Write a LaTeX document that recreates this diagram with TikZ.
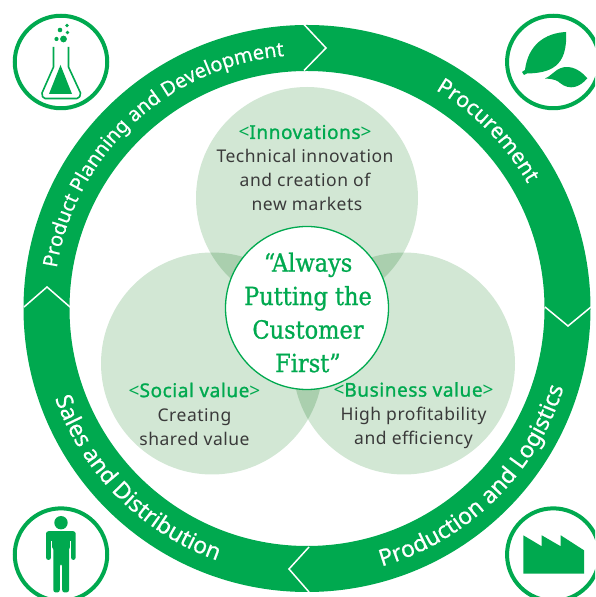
\documentclass[tikz,border=0pt]{standalone}
\usepackage{fontspec}
\setmainfont[LetterSpace=3]{Noto Sans}
\newfontfamily\headface[FakeBold=1.2,LetterSpace=3]{Noto Sans}
\newfontfamily\ringface[FakeBold=0.5]{Noto Sans}
\newfontfamily\coreface[FakeBold=0.9]{DejaVu Serif Condensed}
\usetikzlibrary{decorations.text}
\definecolor{ringgreen}{HTML}{00A94F}
\definecolor{softgreen}{HTML}{D2E7D4}
\definecolor{overlapgreen}{HTML}{AACFAE}
\definecolor{bodygrey}{HTML}{3A3A3A}
\newcommand{\ringtop}{\ringface\fontsize{20}{24}\selectfont\color{white}}
\newcommand{\ringproc}{\ringface\fontsize{21.5}{24}\selectfont\color{white}}
\newcommand{\ringbottom}{\ringface\fontsize{23}{26}\selectfont\color{white}}
\newcommand{\headtext}[1]{{\color{ringgreen}\fontsize{19}{24}\selectfont <{\headface #1}>}}
\tikzset{
  x=1pt,y=1pt,
  chevron/.style={draw=white,line width=1.5pt,line join=miter},
  iconring/.style={circle,draw=ringgreen,line width=4pt,fill=white,minimum size=92.5pt,inner sep=0pt},
  bubble/.style={circle,fill=softgreen,minimum size=222pt,inner sep=0pt},
  bubbletext/.style={align=center,text=bodygrey,font=\fontsize{17.5}{24}\selectfont},
  corecircle/.style={circle,draw=ringgreen,line width=1.3pt,fill=white,minimum size=163pt,inner sep=0pt},
  coretext/.style={align=center,text=ringgreen,font=\coreface\fontsize{25}{33.5}\selectfont},
  ringtoplabel/.style={decorate,decoration={text along path,text align=center,text={|\ringtop|#1}}},
  ringproclabel/.style={decorate,decoration={text along path,text align=center,text={|\ringproc|#1}}},
  ringbottomlabel/.style={decorate,decoration={text along path,text align=center,text={|\ringbottom|#1}}}
}
\begin{document}
\begin{tikzpicture}
\useasboundingbox (0,0) rectangle (595,597);
\clip (0,0) rectangle (595,597);
\coordinate (ringc) at (307,288.5);

% ring
\fill[ringgreen,even odd rule] (ringc) circle[radius=283.5pt] (ringc) circle[radius=237.5pt];

% chevrons
\draw[chevron] (304,572.5) -- (326,549) -- (304,526.5);
\draw[chevron] (545,290) -- (568,271) -- (591,290);
\draw[chevron] (309,50) -- (289,28) -- (309,5);
\draw[chevron] (24,290) -- (47,310) -- (70,290);

% ring labels
\path[ringtoplabel={Product Planning and Development}] ([shift={(ringc)}]178:253.5pt) arc[start angle=178,end angle=88,radius=253.5pt];
\path[ringproclabel={Procurement}] ([shift={(ringc)}]70.5:253.5pt) arc[start angle=70.5,end angle=18.5,radius=253.5pt];
\path[ringbottomlabel={Production and Logistics}] ([shift={(ringc)}]-88:268.5pt) arc[start angle=-88,end angle=-3,radius=268.5pt];
\path[ringbottomlabel={Sales and Distribution}] ([shift={(ringc)}]185:267.5pt) arc[start angle=185,end angle=265,radius=267.5pt];

% bubbles
\node[bubble] (inno) at (307,399) {};
\node[bubble] (social) at (212,233.5) {};
\node[bubble] (business) at (404,233.5) {};
\begin{scope}
  \clip (307,399) circle[radius=111pt];
  \fill[overlapgreen] (212,233.5) circle[radius=111pt];
  \fill[overlapgreen] (404,233.5) circle[radius=111pt];
\end{scope}
\begin{scope}
  \clip (212,233.5) circle[radius=111pt];
  \fill[overlapgreen] (404,233.5) circle[radius=111pt];
\end{scope}

% core
\node[corecircle] (core) at (307,289) {};
\node[coretext] (coretxt) at (308,284.5) {“Always\\Putting the\\Customer\\First”};

% bubble texts
\node[bubbletext] (innotext) at (305,429) {\headtext{Innovations}\\Technical innovation\\and creation of\\\hspace*{4pt}new markets};
\node[bubbletext] (socialtext) at (194.5,183) {\headtext{Social value}\\Creating\\shared value};
\node[bubbletext] (businesstext) at (413.5,181.5) {\headtext{Business value}\\High profitability\\and efficiency};

% flask icon
\node[iconring] (iconflask) at (61,535) {};
\draw[ringgreen,line width=1.6pt,line join=round] (53.5,550) -- (53.5,530) -- (42,504) to[out=-90,in=180] (45,498.5) -- (77,498.5) to[out=0,in=-90] (80.5,504) -- (68.5,530) -- (68.5,550);
\fill[ringgreen] (60.5,532) -- (72,503) -- (49,503) -- cycle;
\fill[ringgreen] (63.5,558) circle[radius=3.4pt] (56.5,558) circle[radius=2.1pt] (60,567) circle[radius=2.3pt] (67.5,564.5) circle[radius=1.9pt] (67,571.5) circle[radius=1.8pt];

% leaf icon
\node[iconring] (iconleaf) at (553.3,535) {};
\fill[ringgreen] (566,565) .. controls (545,564) and (528,552) .. (525,527) -- (522,525) -- (524,522) -- (527,523.5) .. controls (550,524) and (568,530) .. (566,565) -- cycle;
\fill[ringgreen] (587.3,518.7) .. controls (578,530) and (566,533) .. (557,527) -- (548,520) -- (545,518.5) .. controls (555,518) and (558,516) .. (560,514) .. controls (570,506) and (580,510) .. (587.3,518.7) -- cycle;

% person icon
\node[iconring] (iconperson) at (61,42.4) {};
\fill[ringgreen] (61,74.3) circle[radius=6.7pt];
\fill[ringgreen,rounded corners=2.5pt] (46,37) -- (46,65.8) -- (75.7,65.8) -- (75.7,37) -- (71,37) -- (71,50) -- (69,50) -- (69,4.5) -- (62.2,4.5) -- (62.2,33) -- (59.8,33) -- (59.8,4.5) -- (53.3,4.5) -- (53.3,50) -- (51,50) -- (51,37) -- cycle;
\draw[white,line width=1pt] (51.7,37) -- (51.7,56);
\draw[white,line width=1pt] (70.2,37) -- (70.2,56);

% factory icon
\node[iconring] (iconfactory) at (553.3,42.4) {};
\fill[ringgreen] (523.3,61.7) -- (541.7,50.7) -- (541.7,61.7) -- (560.7,50.7) -- (560.7,61.7) -- (584,46.7) -- (584,23.3) -- (523.3,23.3) -- cycle;
\end{tikzpicture}
\end{document}
